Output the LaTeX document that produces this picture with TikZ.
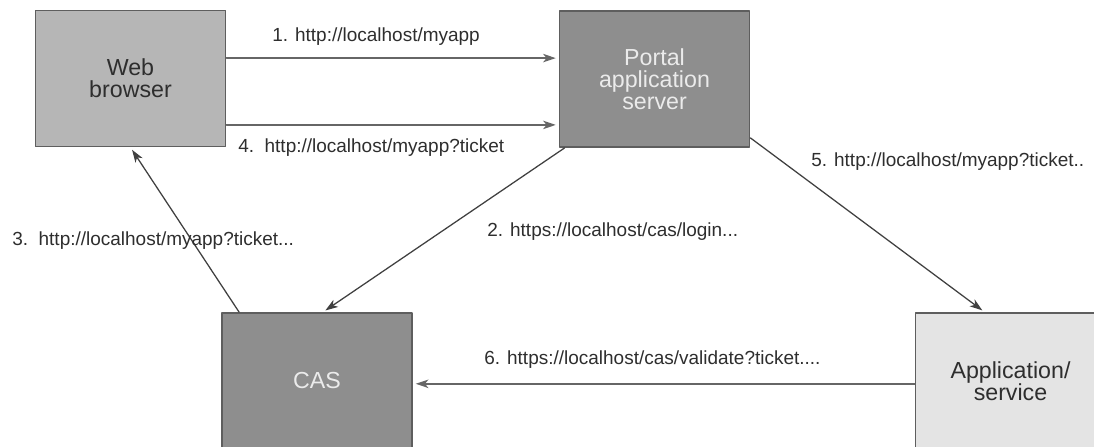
\documentclass[tikz,border=0pt]{standalone}
\usepackage{fontspec}
\setmainfont{Liberation Sans}
\usetikzlibrary{arrows.meta}

\definecolor{boxline}{HTML}{5E5E5E}
\definecolor{lightfill}{HTML}{B6B6B6}
\definecolor{darkfill}{HTML}{8E8E8E}
\definecolor{palefill}{HTML}{E4E4E4}
\definecolor{labeltext}{HTML}{2E2E2E}

\tikzset{
  box/.style={draw=boxline,line width=1.3pt,minimum width=4.75cm,minimum height=3.4cm,
    align=center,font=\fontsize{16.5}{15.6}\selectfont,inner sep=0pt},
  flow/.style={->,line width=0.9pt,draw=black!75,shorten >=2pt},
  url/.style={anchor=west,text=labeltext,font=\fontsize{13.5}{16}\selectfont,inner sep=0pt}
}

\begin{document}
\begin{tikzpicture}[line cap=round,line join=round,>={Stealth[length=9pt,width=6pt,inset=2.5pt]},x=0.025cm,y=-0.025cm]
	\clip (0,0) rectangle (1094,447);
	\fill[white] (0,0) rectangle (1094,447);
	% boxes
	\node[box,fill=lightfill,text=labeltext] (browser) at (130.5,78.5) {Web\\browser};
	\node[box,fill=darkfill,text=black!8] (portal) at (654.5,79) {Portal\\application\\server};
	\node[box,fill=darkfill,text=black!8] (cas) at (317,381) {CAS};
	\node[box,fill=palefill,text=labeltext] (app) at (1010.5,381) {Application/\\service};
	% connectors
	\draw[flow,draw=black!60,line width=1.1pt] ([yshift=0.51cm]browser.east) -- ([yshift=0.51cm]browser.east -| portal.west);
	\draw[flow,draw=black!60,line width=1.1pt] ([yshift=-1.16cm]browser.east) -- ([yshift=-1.16cm]browser.east -| portal.west);
	\draw[flow] ([xshift=0.15cm]portal.south west) -- ([xshift=0.15cm]cas.north);
	\draw[flow] ([xshift=0.45cm]cas.north west) -- (browser.south);
	\draw[flow] ([yshift=0.25cm]portal.south east) -- ([xshift=1.75cm]app.north west);
	\draw[flow,draw=black!60,line width=1.1pt] ([yshift=-0.07cm]app.west) -- ([yshift=-0.07cm]app.west -| cas.east);
	% labels
	\node[url] (l1) at (272,37) {1. http://localhost/myapp};
	\node[url] (l2) at (487,232) {2. https://localhost/cas/login...};
	\node[url] (l3) at (12,241) {3.\ \ http://localhost/myapp?ticket...};
	\node[url] (l4) at (238,148) {4.\ \ http://localhost/myapp?ticket};
	\node[url] (l5) at (811,162) {5. http://localhost/myapp?ticket..};
	\node[url] (l6) at (484,360) {6. https://localhost/cas/validate?ticket....};
\end{tikzpicture}
\end{document}
